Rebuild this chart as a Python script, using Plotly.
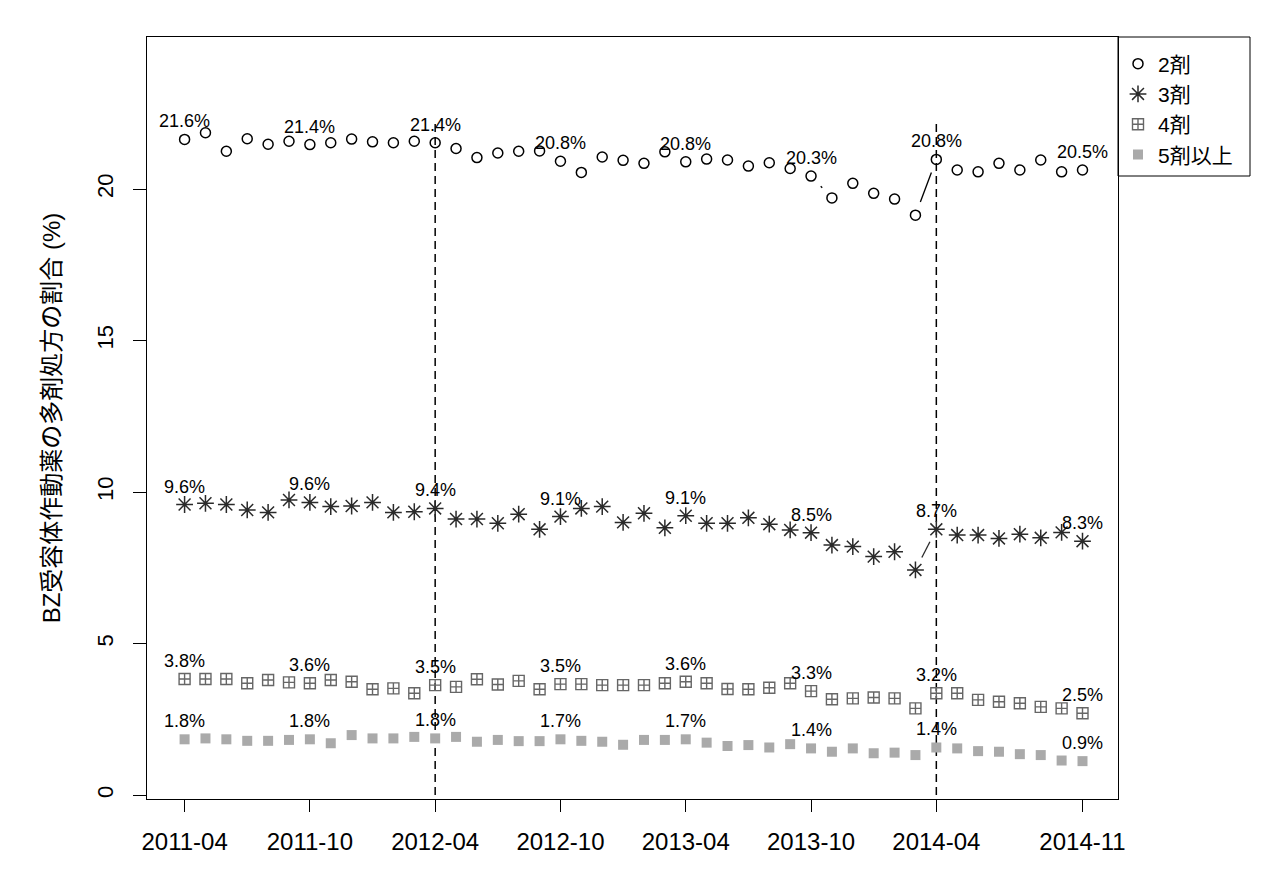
import math
import plotly.graph_objects as go

# ---------------- data ----------------
months = ["2011-04", "2011-05", "2011-06", "2011-07", "2011-08", "2011-09",
          "2011-10", "2011-11", "2011-12", "2012-01", "2012-02", "2012-03",
          "2012-04", "2012-05", "2012-06", "2012-07", "2012-08", "2012-09",
          "2012-10", "2012-11", "2012-12", "2013-01", "2013-02", "2013-03",
          "2013-04", "2013-05", "2013-06", "2013-07", "2013-08", "2013-09",
          "2013-10", "2013-11", "2013-12", "2014-01", "2014-02", "2014-03",
          "2014-04", "2014-05", "2014-06", "2014-07", "2014-08", "2014-09",
          "2014-10", "2014-11"]

tick_labels = ["2011-04", "2011-10", "2012-04", "2012-10",
               "2013-04", "2013-10", "2014-04", "2014-11"]
y_ticks = [0, 5, 10, 15, 20]

two_drugs = [21.64, 21.86, 21.25, 21.66, 21.48, 21.58, 21.47, 21.53, 21.65, 21.56,
             21.53, 21.58, 21.53, 21.34, 21.04, 21.19, 21.25, 21.26, 20.92, 20.55,
             21.06, 20.95, 20.85, 21.23, 20.90, 20.99, 20.96, 20.76, 20.87, 20.68,
             20.43, 19.71, 20.19, 19.86, 19.67, 19.14, 20.98, 20.63, 20.57, 20.85,
             20.63, 20.96, 20.57, 20.63]

three_drugs = [9.59, 9.63, 9.59, 9.41, 9.33, 9.74, 9.66, 9.52, 9.54, 9.66,
               9.33, 9.35, 9.46, 9.11, 9.11, 8.97, 9.27, 8.77, 9.19, 9.46,
               9.52, 9.00, 9.30, 8.82, 9.22, 8.97, 8.97, 9.15, 8.94, 8.75,
               8.66, 8.25, 8.20, 7.87, 8.03, 7.43, 8.77, 8.58, 8.58, 8.47,
               8.61, 8.49, 8.67, 8.38]

four_drugs = [3.83, 3.83, 3.83, 3.69, 3.80, 3.72, 3.69, 3.80, 3.74, 3.49,
              3.52, 3.36, 3.63, 3.57, 3.82, 3.65, 3.77, 3.49, 3.66, 3.66,
              3.63, 3.63, 3.63, 3.69, 3.74, 3.69, 3.50, 3.49, 3.54, 3.69,
              3.43, 3.16, 3.19, 3.22, 3.19, 2.86, 3.36, 3.36, 3.14, 3.08,
              3.03, 2.91, 2.86, 2.70]

five_plus = [1.84, 1.87, 1.84, 1.79, 1.79, 1.82, 1.84, 1.71, 1.98, 1.87,
             1.87, 1.92, 1.87, 1.92, 1.76, 1.82, 1.78, 1.78, 1.84, 1.79,
             1.76, 1.66, 1.82, 1.82, 1.84, 1.73, 1.62, 1.65, 1.57, 1.68,
             1.54, 1.43, 1.54, 1.38, 1.40, 1.32, 1.57, 1.54, 1.45, 1.43,
             1.35, 1.32, 1.14, 1.12]

label_months = ["2011-04", "2011-10", "2012-04", "2012-10",
                "2013-04", "2013-10", "2014-04", "2014-11"]
two_labels = ["21.6%", "21.4%", "21.4%", "20.8%", "20.8%", "20.3%", "20.8%", "20.5%"]
three_labels = ["9.6%", "9.6%", "9.4%", "9.1%", "9.1%", "8.5%", "8.7%", "8.3%"]
four_labels = ["3.8%", "3.6%", "3.5%", "3.5%", "3.6%", "3.3%", "3.2%", "2.5%"]
five_labels = ["1.8%", "1.8%", "1.8%", "1.7%", "1.7%", "1.4%", "1.4%", "0.9%"]

series_names = ["2剤", "3剤", "4剤", "5剤以上"]

vline_months = ["2012-04", "2014-04"]
vline_top = 22.25

# ---------------- layout geometry ----------------
# page body has an 8px margin, so the figure is offset by (8, 8)
W, H = 1274, 861
ML, MR, MT, MB = 139, 164, 29, 70
X_RANGE = [-1.8, 44.7]
Y_RANGE = [-0.13, 25.02]
GAP_PX = 14.0  # R type="b" gap around points

FONT = "Liberation Sans, Arial, Noto Sans CJK JP, sans-serif"

x = list(range(len(months)))

styles = [
    dict(symbol="circle-open", size=10, color="#000000", lw=1.5),
    dict(symbol="asterisk-open", size=14, color="#2a2a2a", lw=1.5),
    dict(symbol="square-cross-open", size=11, color="#666666", lw=1.4),
    dict(symbol="square", size=10, color="#aaaaaa", lw=0),
]
values = [two_drugs, three_drugs, four_drugs, five_plus]
labels = [two_labels, three_labels, four_labels, five_labels]

pw = W - ML - MR
ph = H - MT - MB
sx = pw / (X_RANGE[1] - X_RANGE[0])
sy = ph / (Y_RANGE[1] - Y_RANGE[0])


def gapped_segments(xs, ys):
    sxs, sys_ = [], []
    for k in range(len(xs) - 1):
        x1, y1, x2, y2 = xs[k], ys[k], xs[k + 1], ys[k + 1]
        L = math.hypot((x2 - x1) * sx, (y2 - y1) * sy)
        if L > 2 * GAP_PX:
            f = GAP_PX / L
            sxs += [x1 + (x2 - x1) * f, x2 - (x2 - x1) * f, None]
            sys_ += [y1 + (y2 - y1) * f, y2 - (y2 - y1) * f, None]
    return sxs, sys_


fig = go.Figure()

# dashed reference lines
for m in vline_months:
    xi = months.index(m)
    fig.add_trace(go.Scatter(
        x=[xi, xi], y=[0, vline_top], mode="lines",
        line=dict(color="black", width=1.5, dash="8px,5px"),
        showlegend=False, hoverinfo="skip"))

for name, vals, st in zip(series_names, values, styles):
    segx, segy = gapped_segments(x, vals)
    if segx:
        fig.add_trace(go.Scatter(
            x=segx, y=segy, mode="lines",
            line=dict(color=st["color"], width=1.3),
            showlegend=False, hoverinfo="skip"))
    fig.add_trace(go.Scatter(
        x=x, y=vals, mode="markers", name=name,
        customdata=months,
        hovertemplate="%{customdata}: %{y:.2f}%<extra>" + name + "</extra>",
        marker=dict(symbol=st["symbol"], size=st["size"], color=st["color"],
                    line=dict(color=st["color"], width=st["lw"]))))

annotations = []
for vals, labs in zip(values, labels):
    for m, t in zip(label_months, labs):
        xi = months.index(m)
        annotations.append(dict(
            x=xi, y=vals[xi], text=t, showarrow=False, yshift=18,
            xanchor="center", yanchor="middle",
            font=dict(family=FONT, size=18, color="black")))

# legend frame (drawn as a shape so its padding can match)
LEG_W_PX, LEG_H_PX = 132, 139
shapes = [dict(type="rect", xref="paper", yref="paper",
               x0=1.0, x1=1.0 + LEG_W_PX / pw, y0=1.0 - LEG_H_PX / ph, y1=1.0,
               line=dict(color="black", width=1), fillcolor="white", layer="below")]

fig.update_layout(
    width=W, height=H,
    margin=dict(l=ML, r=MR, t=MT, b=MB),
    paper_bgcolor="white", plot_bgcolor="white",
    font=dict(family=FONT, color="black"),
    annotations=annotations,
    shapes=shapes,
    showlegend=True,
    legend=dict(x=1.0, xanchor="left", y=1.0 - 6.5 / ph, yanchor="top",
                borderwidth=0, bgcolor="rgba(0,0,0,0)",
                font=dict(family=FONT, size=21, color="black"),
                itemwidth=30),
    xaxis=dict(range=X_RANGE, tickvals=[months.index(t) for t in tick_labels],
               ticktext=tick_labels, ticks="outside", ticklen=12, tickwidth=1,
               tickcolor="black", showline=True, mirror=True, linecolor="black",
               linewidth=1, showgrid=False, zeroline=False, ticklabelstandoff=9,
               tickfont=dict(family=FONT, size=24, color="black")),
    yaxis=dict(range=Y_RANGE, tickvals=y_ticks, tickangle=-90,
               ticks="outside", ticklen=13, tickwidth=1, tickcolor="black",
               showline=True, mirror=True, linecolor="black", linewidth=1,
               showgrid=False, zeroline=False, ticklabelstandoff=11,
               tickfont=dict(family=FONT, size=22, color="black"),
               title=dict(text="BZ受容体作動薬の多剤処方の割合 (%)",
                          font=dict(family=FONT, size=24, color="black"),
                          standoff=25)),
)

fig.write_html("out.html")
